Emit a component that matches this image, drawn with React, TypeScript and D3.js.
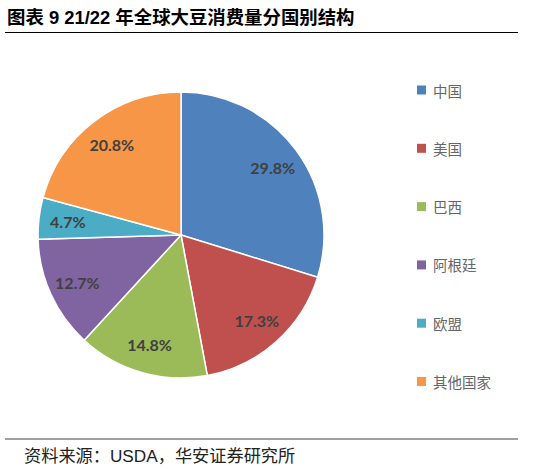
import React from "react";
import * as d3 from "d3";

const categories = ["中国", "美国", "巴西", "阿根廷", "欧盟", "其他国家"];
const values = [29.8, 17.3, 14.8, 12.7, 4.7, 20.8];
const colors = ["#4F81BD", "#C0504D", "#9BBB59", "#8064A2", "#4BACC6", "#F79646"];
const title = "图表 9 21/22 年全球大豆消费量分国别结构";
const source = "资料来源：USDA，华安证券研究所";

const W = 541;
const H = 469;
const cx = 181;
const cy = 235;
const R = 143;
const labelR = 114;

export default function App() {
  const pie = d3
    .pie<number>()
    .sort(null)
    .value((d) => d)
    .startAngle(0)
    .endAngle(2 * Math.PI);
  const arcs = pie(values);
  const arc = d3.arc<d3.PieArcDatum<number>>().innerRadius(0).outerRadius(R);
  const labelArc = d3
    .arc<d3.PieArcDatum<number>>()
    .innerRadius(labelR)
    .outerRadius(labelR);

  const legendY = d3
    .scalePoint<string>()
    .domain(categories)
    .range([90, 381.5]);

  return (
    <svg
      width={W}
      height={H}
      style={{ position: "absolute", left: 0, top: 0, background: "#fff" }}
    >
      <text
        x={7}
        y={24}
        fontSize={18.4}
        fontWeight="bold"
        fill="#000"
        fontFamily="'Liberation Sans', 'Noto Sans CJK SC', sans-serif"
      >
        {title}
      </text>
      <line x1={5} x2={518} y1={32.5} y2={32.5} stroke="#000" strokeWidth={1.2} />

      <g transform={`translate(${cx},${cy})`}>
        {arcs.map((a, i) => (
          <path
            key={categories[i]}
            d={arc(a) || ""}
            fill={colors[i]}
            stroke="#fff"
            strokeWidth={1.5}
            strokeLinejoin="round"
          />
        ))}
        {arcs.map((a, i) => {
          const [x, y] = labelArc.centroid(a);
          return (
            <text
              key={"l" + i}
              x={x}
              y={y}
              textAnchor="middle"
              dominantBaseline="central"
              fontSize={16}
              fontWeight="bold"
              fill="#404040"
              fontFamily="Lato, 'Open Sans', sans-serif"
            >
              {values[i].toFixed(1)}%
            </text>
          );
        })}
      </g>

      {categories.map((c, i) => {
        const y = legendY(c) as number;
        return (
          <g key={"lg" + i}>
            <rect x={417} y={y - 4.5} width={9} height={9} fill={colors[i]} />
            <text
              x={433}
              y={y}
              dominantBaseline="central"
              fontSize={14.5}
              fill="#666"
              fontFamily="'Noto Sans CJK SC', sans-serif"
            >
              {c}
            </text>
          </g>
        );
      })}

      <line x1={5} x2={518} y1={439} y2={439} stroke="#808080" strokeWidth={1.5} />
      <text
        x={24}
        y={462}
        fontSize={17.2}
        fill="#222"
        fontFamily="'Liberation Sans', 'Noto Sans CJK SC', sans-serif"
      >
        {source}
      </text>
    </svg>
  );
}
